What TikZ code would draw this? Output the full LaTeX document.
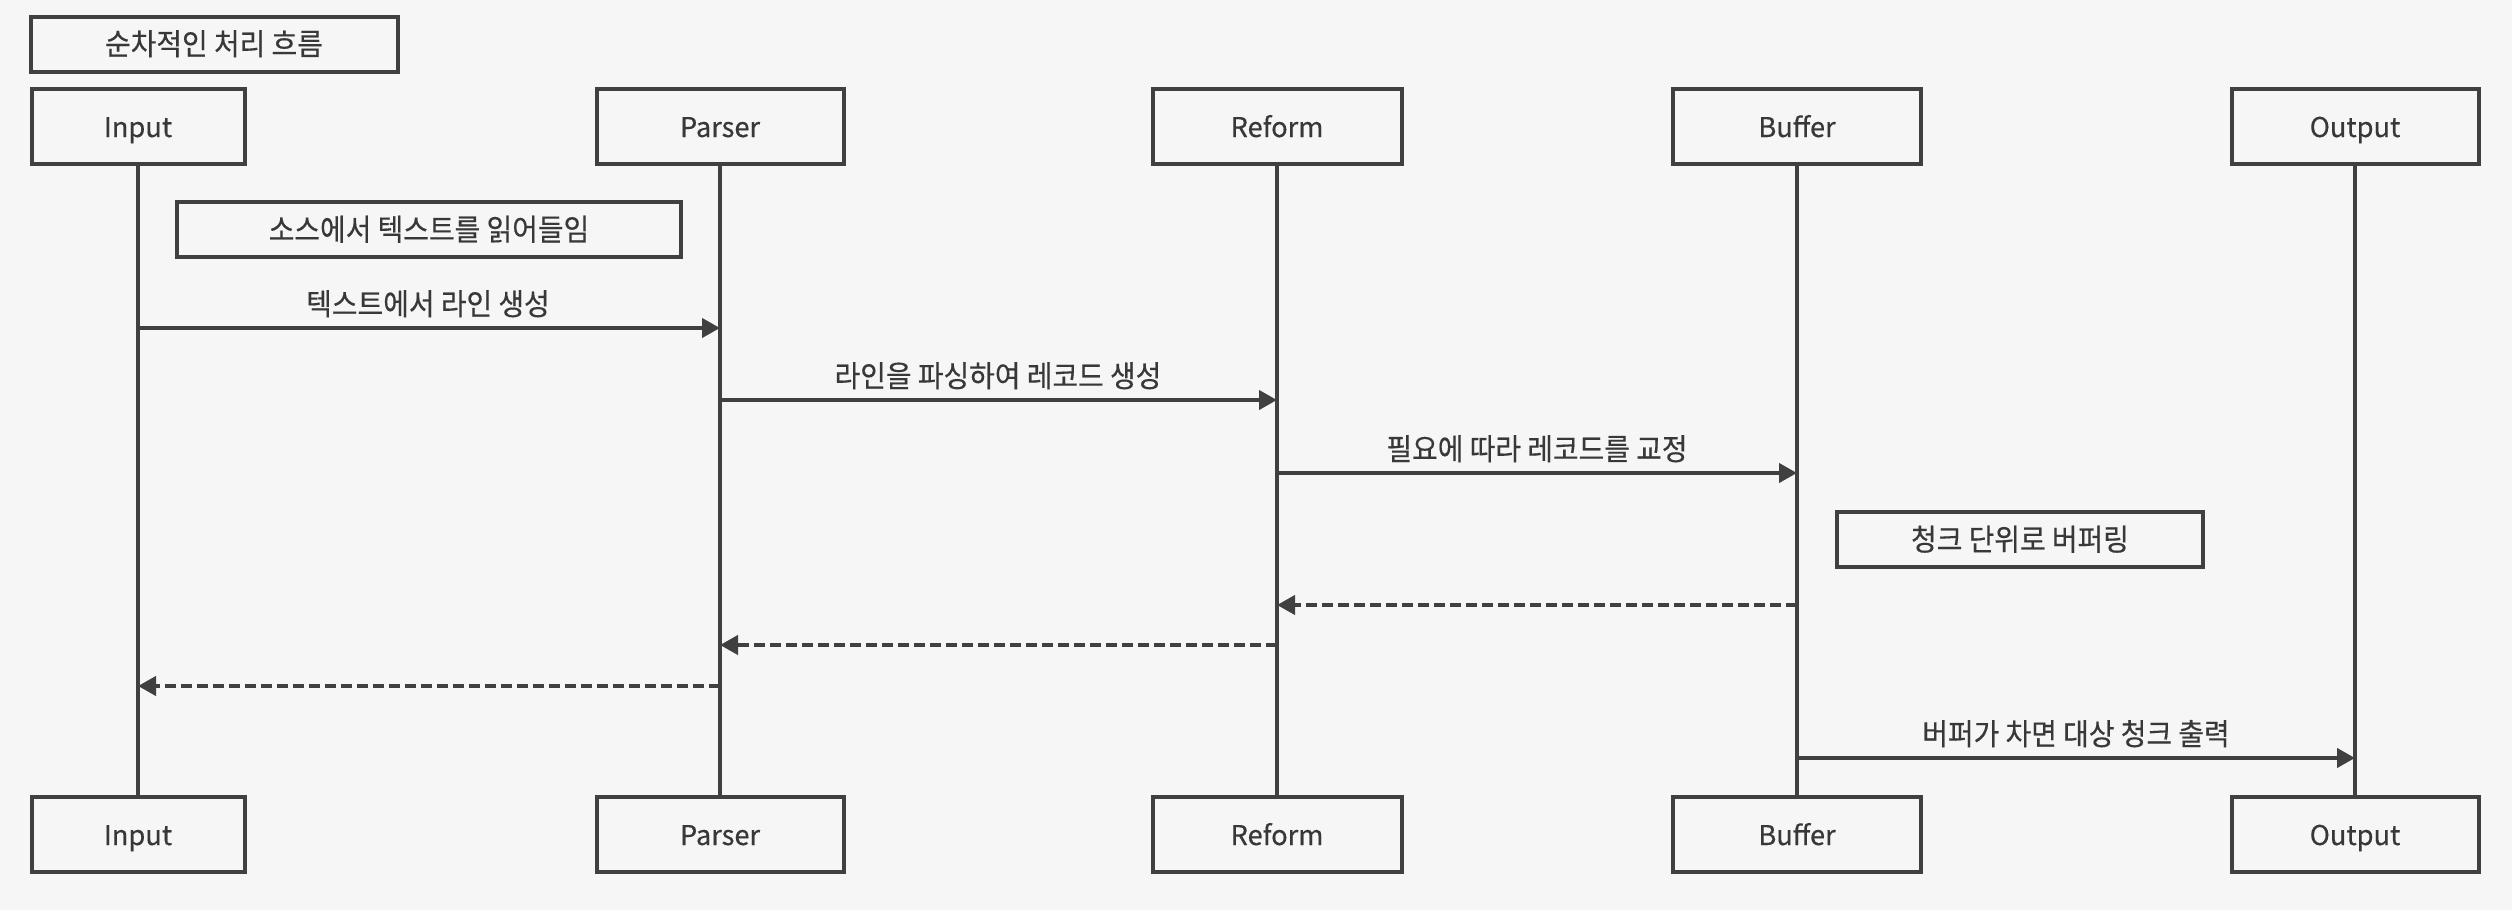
\documentclass[tikz,border=0pt]{standalone}
\usepackage{fontspec}
\setmainfont[FakeBold=0.4]{Noto Sans CJK KR}
\newfontfamily\kr[FakeStretch=0.93,FakeBold=0.4]{Noto Sans CJK KR}
\usetikzlibrary{arrows.meta,backgrounds}
\definecolor{bg}{HTML}{F6F6F6}
\definecolor{ink}{HTML}{404040}
\definecolor{txt}{HTML}{383838}
\tikzset{
  actor/.style={draw=ink, line width=4pt, fill=bg, minimum height=75pt, inner sep=0pt, text=txt, text height=27pt, text depth=6pt, font=\fontsize{27.2}{32}\selectfont},
  notebox/.style={draw=ink, line width=4pt, fill=bg, minimum height=55pt, inner sep=0pt, text=txt, text height=28pt, text depth=6pt, font=\kr\fontsize{30}{36}\selectfont},
  lbl/.style={text=txt, inner sep=0pt, text height=28pt, text depth=6pt, font=\kr\fontsize{30}{36}\selectfont},
  life/.style={draw=ink, line width=3.5pt},
  msg/.style={draw=ink, line width=4pt, -{Triangle[length=18pt,width=19pt]}},
  ret/.style={msg, dash pattern=on 10.7pt off 5.3pt},
}
\begin{document}
\begin{tikzpicture}[x=1pt,y=-1pt]
% title
\node[notebox, minimum width=367pt] (title) at (214,44) {순차적인 처리 흐름};
% actors top
\node[actor, minimum width=213pt] (inT) at (138,126.5) {Input};
\node[actor, minimum width=247pt] (paT) at (720,126.5) {Parser};
\node[actor, minimum width=249pt] (reT) at (1277,126.5) {Reform};
\node[actor, minimum width=248pt] (buT) at (1797,126.5) {Buffer};
\node[actor, minimum width=247pt] (ouT) at (2355,126.5) {Output};
% actors bottom
\node[actor, minimum width=213pt] (inB) at (138,834.5) {Input};
\node[actor, minimum width=247pt] (paB) at (720,834.5) {Parser};
\node[actor, minimum width=249pt] (reB) at (1277,834.5) {Reform};
\node[actor, minimum width=248pt] (buB) at (1797,834.5) {Buffer};
\node[actor, minimum width=247pt] (ouB) at (2355,834.5) {Output};
% notes
\node[notebox, minimum width=504pt] (note1) at (429,229.5) {소스에서 텍스트를 읽어들임};
\node[notebox, minimum width=366pt] (note2) at (2020,539.5) {청크 단위로 버퍼링};
% message points on the lifelines
\path (inT.south |- 0,328) coordinate (m1a)  (paT.south |- 0,328) coordinate (m1b)
      (paT.south |- 0,400) coordinate (m2a)  (reT.south |- 0,400) coordinate (m2b)
      (reT.south |- 0,473) coordinate (m3a)  (buT.south |- 0,473) coordinate (m3b)
      (buT.south |- 0,605) coordinate (r1a)  (reT.south |- 0,605) coordinate (r1b)
      (reT.south |- 0,645) coordinate (r2a)  (paT.south |- 0,645) coordinate (r2b)
      (paT.south |- 0,686) coordinate (r3a)  (inT.south |- 0,686) coordinate (r3b)
      (buT.south |- 0,758) coordinate (m4a)  (ouT.south |- 0,758) coordinate (m4b);
% messages
\draw[msg] (m1a) -- (m1b);
\node[lbl] (l1) at (428,304) {텍스트에서 라인 생성};
\draw[msg] (m2a) -- (m2b);
\node[lbl] (l2) at (998,376) {라인을 파싱하여 레코드 생성};
\draw[msg] (m3a) -- (m3b);
\node[lbl] (l3) at (1537,449) {필요에 따라 레코드를 교정};
\draw[ret] (r1a) -- (r1b);
\draw[ret] (r2a) -- (r2b);
\draw[ret] (r3a) -- (r3b);
\draw[msg] (m4a) -- (m4b);
\node[lbl] (l4) at (2076,734) {버퍼가 차면 대상 청크 출력};
% lifelines and background behind everything
\begin{pgfonlayer}{background}
\fill[bg] (0,0) rectangle (2512,910);
\draw[life] (inT.south) -- (inB.north);
\draw[life] (paT.south) -- (paB.north);
\draw[life] (reT.south) -- (reB.north);
\draw[life] (buT.south) -- (buB.north);
\draw[life] (ouT.south) -- (ouB.north);
\end{pgfonlayer}
\useasboundingbox (0,0) rectangle (2512,910);
\end{tikzpicture}
\end{document}
